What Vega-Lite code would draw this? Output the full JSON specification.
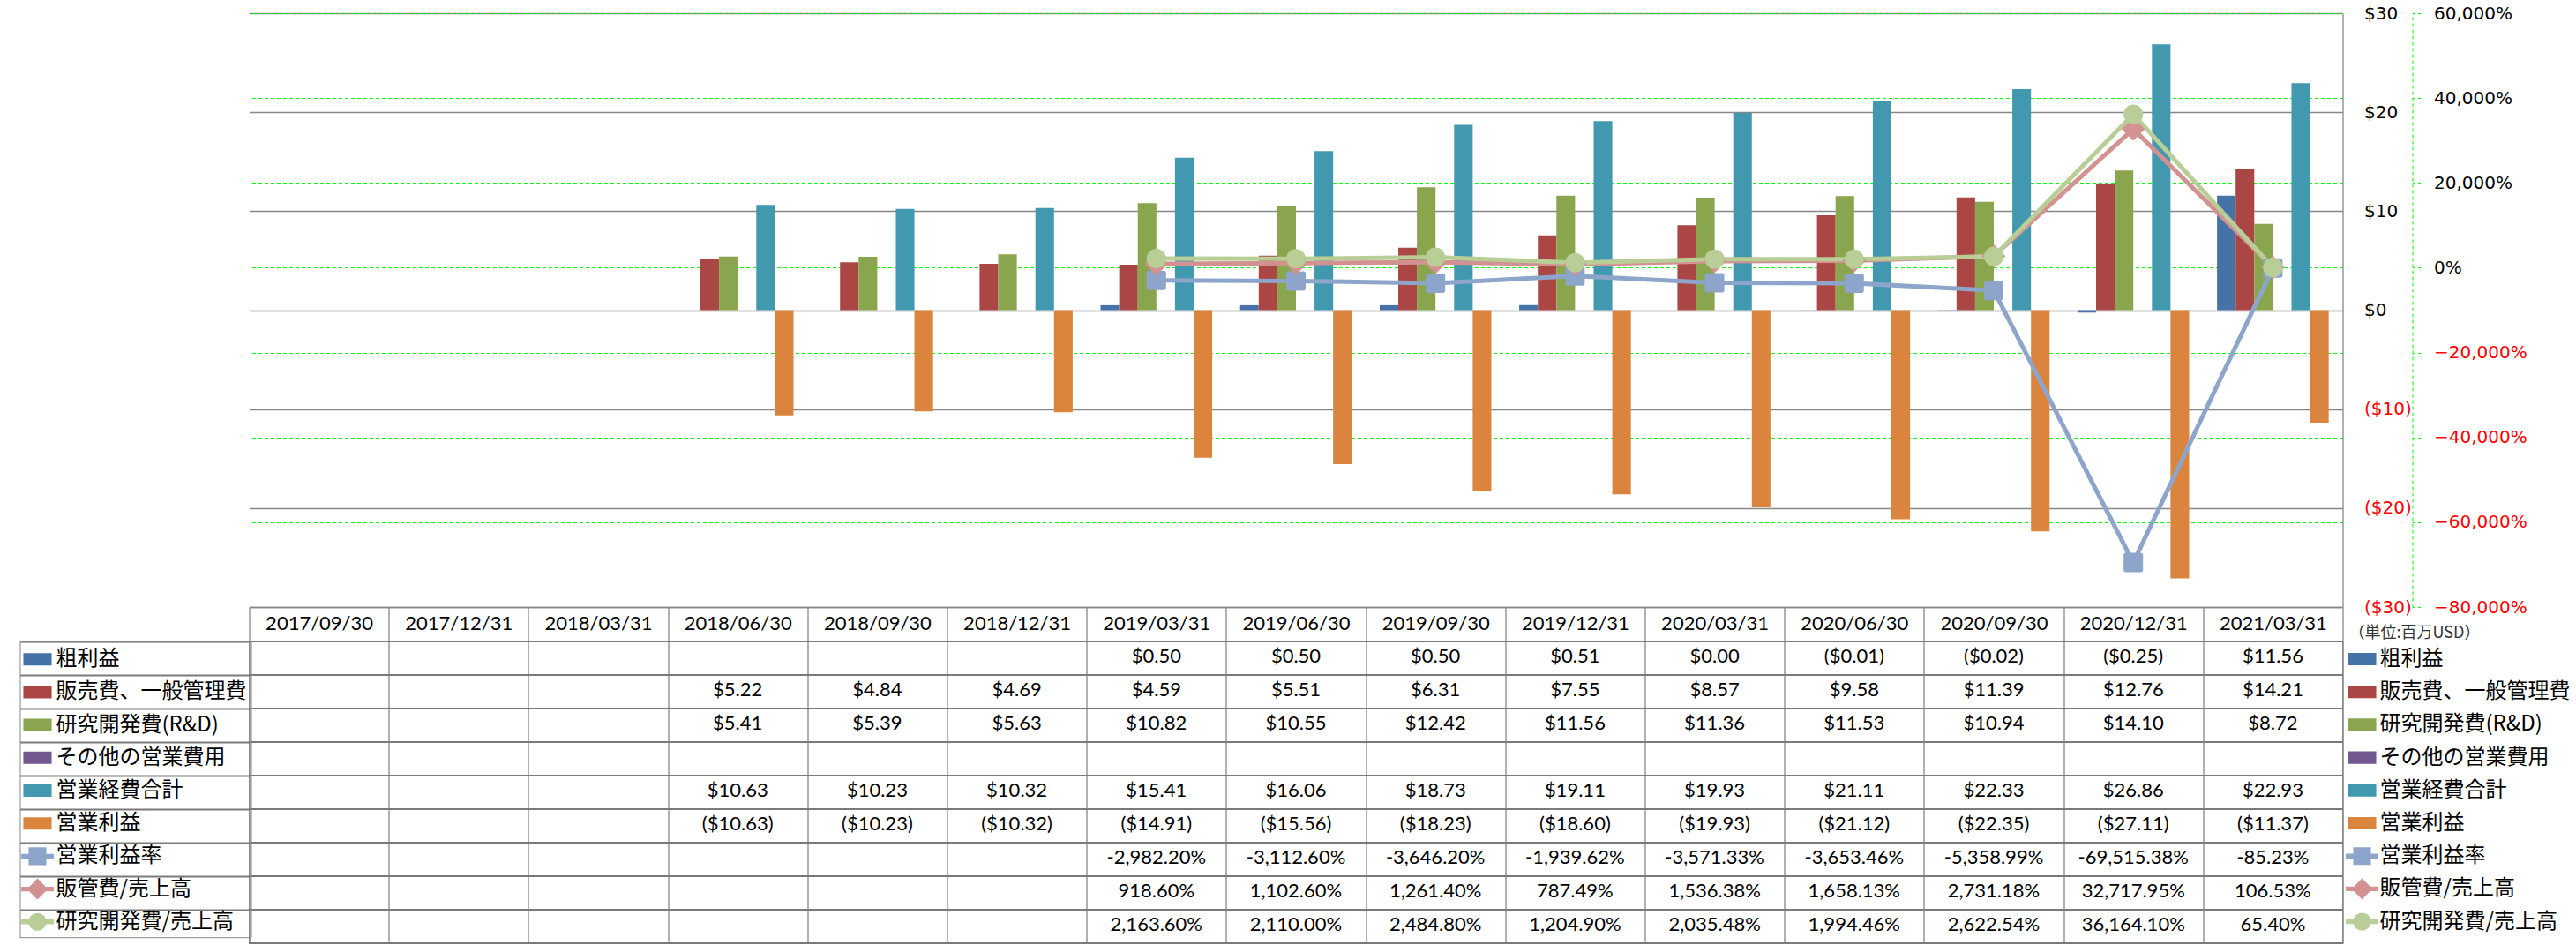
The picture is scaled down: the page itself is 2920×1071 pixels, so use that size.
{
  "$schema": "https://vega.github.io/schema/vega-lite/v6.json",
  "background": "white",
  "padding": {"left": 20.5, "top": 5, "right": 5, "bottom": 1},
  "config": {"font": "Lato", "view": {"stroke": null}},
  "datasets": {
    "cells": [
      {"date": "2018/06/30", "series": "販売費、一般管理費", "kind": "bar", "value": 5.22, "label": "$5.22"},
      {"date": "2018/06/30", "series": "研究開発費(R&D)", "kind": "bar", "value": 5.41, "label": "$5.41"},
      {"date": "2018/06/30", "series": "営業経費合計", "kind": "bar", "value": 10.63, "label": "$10.63"},
      {"date": "2018/06/30", "series": "営業利益", "kind": "bar", "value": -10.63, "label": "($10.63)"},
      {"date": "2018/09/30", "series": "販売費、一般管理費", "kind": "bar", "value": 4.84, "label": "$4.84"},
      {"date": "2018/09/30", "series": "研究開発費(R&D)", "kind": "bar", "value": 5.39, "label": "$5.39"},
      {"date": "2018/09/30", "series": "営業経費合計", "kind": "bar", "value": 10.23, "label": "$10.23"},
      {"date": "2018/09/30", "series": "営業利益", "kind": "bar", "value": -10.23, "label": "($10.23)"},
      {"date": "2018/12/31", "series": "販売費、一般管理費", "kind": "bar", "value": 4.69, "label": "$4.69"},
      {"date": "2018/12/31", "series": "研究開発費(R&D)", "kind": "bar", "value": 5.63, "label": "$5.63"},
      {"date": "2018/12/31", "series": "営業経費合計", "kind": "bar", "value": 10.32, "label": "$10.32"},
      {"date": "2018/12/31", "series": "営業利益", "kind": "bar", "value": -10.32, "label": "($10.32)"},
      {"date": "2019/03/31", "series": "粗利益", "kind": "bar", "value": 0.50, "label": "$0.50"},
      {"date": "2019/03/31", "series": "販売費、一般管理費", "kind": "bar", "value": 4.59, "label": "$4.59"},
      {"date": "2019/03/31", "series": "研究開発費(R&D)", "kind": "bar", "value": 10.82, "label": "$10.82"},
      {"date": "2019/03/31", "series": "営業経費合計", "kind": "bar", "value": 15.41, "label": "$15.41"},
      {"date": "2019/03/31", "series": "営業利益", "kind": "bar", "value": -14.91, "label": "($14.91)"},
      {"date": "2019/03/31", "series": "営業利益率", "kind": "line", "value": -2982.20, "label": "-2,982.20%"},
      {"date": "2019/03/31", "series": "販管費/売上高", "kind": "line", "value": 918.60, "label": "918.60%"},
      {"date": "2019/03/31", "series": "研究開発費/売上高", "kind": "line", "value": 2163.60, "label": "2,163.60%"},
      {"date": "2019/06/30", "series": "粗利益", "kind": "bar", "value": 0.50, "label": "$0.50"},
      {"date": "2019/06/30", "series": "販売費、一般管理費", "kind": "bar", "value": 5.51, "label": "$5.51"},
      {"date": "2019/06/30", "series": "研究開発費(R&D)", "kind": "bar", "value": 10.55, "label": "$10.55"},
      {"date": "2019/06/30", "series": "営業経費合計", "kind": "bar", "value": 16.06, "label": "$16.06"},
      {"date": "2019/06/30", "series": "営業利益", "kind": "bar", "value": -15.56, "label": "($15.56)"},
      {"date": "2019/06/30", "series": "営業利益率", "kind": "line", "value": -3112.60, "label": "-3,112.60%"},
      {"date": "2019/06/30", "series": "販管費/売上高", "kind": "line", "value": 1102.60, "label": "1,102.60%"},
      {"date": "2019/06/30", "series": "研究開発費/売上高", "kind": "line", "value": 2110.00, "label": "2,110.00%"},
      {"date": "2019/09/30", "series": "粗利益", "kind": "bar", "value": 0.50, "label": "$0.50"},
      {"date": "2019/09/30", "series": "販売費、一般管理費", "kind": "bar", "value": 6.31, "label": "$6.31"},
      {"date": "2019/09/30", "series": "研究開発費(R&D)", "kind": "bar", "value": 12.42, "label": "$12.42"},
      {"date": "2019/09/30", "series": "営業経費合計", "kind": "bar", "value": 18.73, "label": "$18.73"},
      {"date": "2019/09/30", "series": "営業利益", "kind": "bar", "value": -18.23, "label": "($18.23)"},
      {"date": "2019/09/30", "series": "営業利益率", "kind": "line", "value": -3646.20, "label": "-3,646.20%"},
      {"date": "2019/09/30", "series": "販管費/売上高", "kind": "line", "value": 1261.40, "label": "1,261.40%"},
      {"date": "2019/09/30", "series": "研究開発費/売上高", "kind": "line", "value": 2484.80, "label": "2,484.80%"},
      {"date": "2019/12/31", "series": "粗利益", "kind": "bar", "value": 0.51, "label": "$0.51"},
      {"date": "2019/12/31", "series": "販売費、一般管理費", "kind": "bar", "value": 7.55, "label": "$7.55"},
      {"date": "2019/12/31", "series": "研究開発費(R&D)", "kind": "bar", "value": 11.56, "label": "$11.56"},
      {"date": "2019/12/31", "series": "営業経費合計", "kind": "bar", "value": 19.11, "label": "$19.11"},
      {"date": "2019/12/31", "series": "営業利益", "kind": "bar", "value": -18.60, "label": "($18.60)"},
      {"date": "2019/12/31", "series": "営業利益率", "kind": "line", "value": -1939.62, "label": "-1,939.62%"},
      {"date": "2019/12/31", "series": "販管費/売上高", "kind": "line", "value": 787.49, "label": "787.49%"},
      {"date": "2019/12/31", "series": "研究開発費/売上高", "kind": "line", "value": 1204.90, "label": "1,204.90%"},
      {"date": "2020/03/31", "series": "粗利益", "kind": "bar", "value": 0.00, "label": "$0.00"},
      {"date": "2020/03/31", "series": "販売費、一般管理費", "kind": "bar", "value": 8.57, "label": "$8.57"},
      {"date": "2020/03/31", "series": "研究開発費(R&D)", "kind": "bar", "value": 11.36, "label": "$11.36"},
      {"date": "2020/03/31", "series": "営業経費合計", "kind": "bar", "value": 19.93, "label": "$19.93"},
      {"date": "2020/03/31", "series": "営業利益", "kind": "bar", "value": -19.93, "label": "($19.93)"},
      {"date": "2020/03/31", "series": "営業利益率", "kind": "line", "value": -3571.33, "label": "-3,571.33%"},
      {"date": "2020/03/31", "series": "販管費/売上高", "kind": "line", "value": 1536.38, "label": "1,536.38%"},
      {"date": "2020/03/31", "series": "研究開発費/売上高", "kind": "line", "value": 2035.48, "label": "2,035.48%"},
      {"date": "2020/06/30", "series": "粗利益", "kind": "bar", "value": -0.01, "label": "($0.01)"},
      {"date": "2020/06/30", "series": "販売費、一般管理費", "kind": "bar", "value": 9.58, "label": "$9.58"},
      {"date": "2020/06/30", "series": "研究開発費(R&D)", "kind": "bar", "value": 11.53, "label": "$11.53"},
      {"date": "2020/06/30", "series": "営業経費合計", "kind": "bar", "value": 21.11, "label": "$21.11"},
      {"date": "2020/06/30", "series": "営業利益", "kind": "bar", "value": -21.12, "label": "($21.12)"},
      {"date": "2020/06/30", "series": "営業利益率", "kind": "line", "value": -3653.46, "label": "-3,653.46%"},
      {"date": "2020/06/30", "series": "販管費/売上高", "kind": "line", "value": 1658.13, "label": "1,658.13%"},
      {"date": "2020/06/30", "series": "研究開発費/売上高", "kind": "line", "value": 1994.46, "label": "1,994.46%"},
      {"date": "2020/09/30", "series": "粗利益", "kind": "bar", "value": -0.02, "label": "($0.02)"},
      {"date": "2020/09/30", "series": "販売費、一般管理費", "kind": "bar", "value": 11.39, "label": "$11.39"},
      {"date": "2020/09/30", "series": "研究開発費(R&D)", "kind": "bar", "value": 10.94, "label": "$10.94"},
      {"date": "2020/09/30", "series": "営業経費合計", "kind": "bar", "value": 22.33, "label": "$22.33"},
      {"date": "2020/09/30", "series": "営業利益", "kind": "bar", "value": -22.35, "label": "($22.35)"},
      {"date": "2020/09/30", "series": "営業利益率", "kind": "line", "value": -5358.99, "label": "-5,358.99%"},
      {"date": "2020/09/30", "series": "販管費/売上高", "kind": "line", "value": 2731.18, "label": "2,731.18%"},
      {"date": "2020/09/30", "series": "研究開発費/売上高", "kind": "line", "value": 2622.54, "label": "2,622.54%"},
      {"date": "2020/12/31", "series": "粗利益", "kind": "bar", "value": -0.25, "label": "($0.25)"},
      {"date": "2020/12/31", "series": "販売費、一般管理費", "kind": "bar", "value": 12.76, "label": "$12.76"},
      {"date": "2020/12/31", "series": "研究開発費(R&D)", "kind": "bar", "value": 14.10, "label": "$14.10"},
      {"date": "2020/12/31", "series": "営業経費合計", "kind": "bar", "value": 26.86, "label": "$26.86"},
      {"date": "2020/12/31", "series": "営業利益", "kind": "bar", "value": -27.11, "label": "($27.11)"},
      {"date": "2020/12/31", "series": "営業利益率", "kind": "line", "value": -69515.38, "label": "-69,515.38%"},
      {"date": "2020/12/31", "series": "販管費/売上高", "kind": "line", "value": 32717.95, "label": "32,717.95%"},
      {"date": "2020/12/31", "series": "研究開発費/売上高", "kind": "line", "value": 36164.10, "label": "36,164.10%"},
      {"date": "2021/03/31", "series": "粗利益", "kind": "bar", "value": 11.56, "label": "$11.56"},
      {"date": "2021/03/31", "series": "販売費、一般管理費", "kind": "bar", "value": 14.21, "label": "$14.21"},
      {"date": "2021/03/31", "series": "研究開発費(R&D)", "kind": "bar", "value": 8.72, "label": "$8.72"},
      {"date": "2021/03/31", "series": "営業経費合計", "kind": "bar", "value": 22.93, "label": "$22.93"},
      {"date": "2021/03/31", "series": "営業利益", "kind": "bar", "value": -11.37, "label": "($11.37)"},
      {"date": "2021/03/31", "series": "営業利益率", "kind": "line", "value": -85.23, "label": "-85.23%"},
      {"date": "2021/03/31", "series": "販管費/売上高", "kind": "line", "value": 106.53, "label": "106.53%"},
      {"date": "2021/03/31", "series": "研究開発費/売上高", "kind": "line", "value": 65.40, "label": "65.40%"}
    ]
  },
  "data": {"name": "cells"},
  "bounds": "flush",
  "spacing": 39,
  "resolve": {
    "scale": {"color": "independent", "shape": "independent"},
    "legend": {"color": "independent", "shape": "independent"}
  },
  "vconcat": [
    {
      "width": 2373,
      "height": 673,
      "encoding": {
        "x": {
          "field": "date", "type": "ordinal",
          "scale": {"type": "band", "domain": ["2017/09/30","2017/12/31","2018/03/31","2018/06/30","2018/09/30","2018/12/31","2019/03/31","2019/06/30","2019/09/30","2019/12/31","2020/03/31","2020/06/30","2020/09/30","2020/12/31","2021/03/31"], "paddingInner": 0, "paddingOuter": 0},
          "axis": {"orient": "bottom", "title": null, "labelAngle": 0, "labelFont": "Lato", "labelFontSize": 22, "labelColor": "#000000", "tickBand": "extent", "ticks": true, "tickSize": 39, "tickColor": "#878787", "tickWidth": 1.3, "domain": true, "domainColor": "#878787", "domainWidth": 1.3, "labelPadding": -31, "labelBaseline": "top", "grid": false}
        }
      },
      "layer": [
        {
          "layer": [
            {
              "transform": [{"filter": "datum.kind == 'bar'"}],
              "mark": {"type": "bar"},
              "encoding": {
                "xOffset": {"field": "series", "type": "nominal", "scale": {"domain": ["粗利益","販売費、一般管理費","研究開発費(R&D)","その他の営業費用","営業経費合計","営業利益"], "paddingInner": 0, "paddingOuter": 0.75}},
                "y": {
                  "field": "value", "type": "quantitative",
                  "scale": {"domain": [-30, 30], "nice": false},
                  "axis": {"orient": "right", "title": null, "values": [-30,-20,-10,0,10,20,30], "grid": true, "gridColor": "#878787", "gridWidth": 1.3, "domain": true, "domainColor": "#878787", "domainWidth": 1.3, "ticks": false, "labelPadding": 24, "labelFont": "DejaVu Sans", "labelFontSize": 20, "labelExpr": "datum.value < 0 ? '($' + abs(datum.value) + ')' : '$' + datum.value", "labelColor": {"condition": {"test": "datum.value < 0", "value": "#FF0000"}, "value": "#000000"}}
                },
                "color": {"field": "series", "type": "nominal", "scale": {"domain": ["粗利益","販売費、一般管理費","研究開発費(R&D)","その他の営業費用","営業経費合計","営業利益","営業利益率","販管費/売上高","研究開発費/売上高"], "range": ["#4572A7","#AA4643","#89A54E","#71588F","#4198AF","#DB843D","#8EA5CB","#D29292","#B9CD96"]}}
              }
            },
            {
              "transform": [{"filter": "datum.kind == 'bar'"}],
              "mark": {"type": "point", "filled": true, "opacity": 0, "clip": true},
              "encoding": {
                "y": {"field": "value", "type": "quantitative"},
                "color": {"field": "series", "type": "nominal",
                  "legend": {"orient": "none", "legendX": 2380, "legendY": 694, "title": "（単位:百万USD）", "titleFont": "Noto Sans CJK JP", "titleFontSize": 18, "titleFontWeight": "normal", "titleColor": "#333333", "titlePadding": 5, "direction": "vertical", "symbolSize": 900, "symbolStrokeWidth": 0, "symbolOpacity": 1, "labelFont": "Noto Sans CJK JP", "labelFontSize": 24, "labelColor": "#000000", "labelOffset": 5, "rowPadding": 10.2, "padding": 0, "labelLimit": 400}},
                "shape": {"field": "series", "type": "nominal",
                  "scale": {"domain": ["粗利益","販売費、一般管理費","研究開発費(R&D)","その他の営業費用","営業経費合計","営業利益","営業利益率","販管費/売上高","研究開発費/売上高"], "range": ["M-1.07,-0.47H1.07V0.47H-1.07Z","M-1.07,-0.47H1.07V0.47H-1.07Z","M-1.07,-0.47H1.07V0.47H-1.07Z","M-1.07,-0.47H1.07V0.47H-1.07Z","M-1.07,-0.47H1.07V0.47H-1.07Z","M-1.07,-0.47H1.07V0.47H-1.07Z","M-1.23,-0.18H-0.67V-0.67H0.67V-0.18H1.23V0.18H0.67V0.67H-0.67V0.18H-1.23Z","M-1.23,-0.18H-0.62L0,-0.8L0.62,-0.18H1.23V0.18H0.62L0,0.8L-0.62,0.18H-1.23Z","M-1.23,-0.18H-0.645A0.67,0.67 0 0 1 0.645,-0.18H1.23V0.18H0.645A0.67,0.67 0 0 1 -0.645,0.18H-1.23Z"]},
                  "legend": {"orient": "none", "legendX": 2380, "legendY": 694, "title": "（単位:百万USD）", "titleFont": "Noto Sans CJK JP", "titleFontSize": 18, "titleFontWeight": "normal", "titleColor": "#333333", "titlePadding": 5, "direction": "vertical", "symbolSize": 900, "symbolStrokeWidth": 0, "symbolOpacity": 1, "labelFont": "Noto Sans CJK JP", "labelFontSize": 24, "labelColor": "#000000", "labelOffset": 5, "rowPadding": 10.2, "padding": 0, "labelLimit": 400}}
              }
            }
          ]
        },
        {
          "layer": [
            {
              "transform": [{"filter": "datum.kind == 'line'"}],
              "mark": {"type": "line", "strokeWidth": 5},
              "encoding": {
                "y": {
                  "field": "value", "type": "quantitative",
                  "scale": {"domain": [-80000, 60000], "nice": false, "zero": false},
                  "axis": {"orient": "right", "offset": 79, "title": null, "values": [-80000,-60000,-40000,-20000,0,20000,40000,60000], "grid": true, "gridColor": "#00FF00", "gridDash": [4,3], "gridWidth": 1, "domain": true, "domainColor": "#00FF00", "domainDash": [4,3], "domainWidth": 1, "ticks": true, "tickSize": 9, "tickColor": "#00FF00", "tickDash": [3,3], "tickWidth": 1, "labelPadding": 15, "labelFont": "DejaVu Sans", "labelFontSize": 20, "labelExpr": "format(datum.value, ',') + '%'", "labelColor": {"condition": {"test": "datum.value < 0", "value": "#FF0000"}, "value": "#000000"}}
                },
                "color": {"field": "series", "type": "nominal"}
              }
            },
            {
              "transform": [{"filter": "datum.series == '営業利益率'"}],
              "mark": {"type": "point", "shape": "M-1,-0.75Q-1,-1 -0.75,-1H0.75Q1,-1 1,-0.75V0.75Q1,1 0.75,1H-0.75Q-1,1 -1,0.75Z", "filled": true, "size": 484, "color": "#8EA5CB", "opacity": 1},
              "encoding": {"y": {"field": "value", "type": "quantitative"}}
            },
            {
              "transform": [{"filter": "datum.series == '販管費/売上高'"}],
              "mark": {"type": "point", "shape": "diamond", "filled": true, "size": 700, "color": "#D29292", "opacity": 1},
              "encoding": {"y": {"field": "value", "type": "quantitative"}}
            },
            {
              "transform": [{"filter": "datum.series == '研究開発費/売上高'"}],
              "mark": {"type": "point", "shape": "circle", "filled": true, "size": 484, "color": "#B9CD96", "opacity": 1},
              "encoding": {"y": {"field": "value", "type": "quantitative"}}
            }
          ]
        }
      ],
      "resolve": {"scale": {"y": "independent"}}
    },
    {
      "width": 2373,
      "height": 342,
      "view": {"stroke": "#878787", "strokeWidth": 1.3},
      "layer": [
        {
          "mark": {"type": "rule", "color": "#7A7A7A", "strokeWidth": 2},
          "encoding": {
            "y": {"field": "series", "type": "nominal", "bandPosition": 0,
              "scale": {"type": "band", "domain": ["粗利益","販売費、一般管理費","研究開発費(R&D)","その他の営業費用","営業経費合計","営業利益","営業利益率","販管費/売上高","研究開発費/売上高"], "paddingInner": 0, "paddingOuter": 0},
              "axis": {"orient": "left", "title": null, "labels": false, "domain": false, "ticks": true, "bandPosition": 0, "tickSize": 260, "tickColor": "#7A7A7A", "tickWidth": 2, "grid": false}}
          }
        },
        {
          "mark": {"type": "rule", "color": "#7A7A7A", "strokeWidth": 2},
          "encoding": {
            "y": {"field": "series", "type": "nominal", "bandPosition": 1}
          }
        },
        {
          "mark": {"type": "point", "filled": true, "opacity": 0},
          "encoding": {
            "x": {
              "field": "date", "type": "ordinal",
              "scale": {"type": "band", "domain": ["2017/09/30","2017/12/31","2018/03/31","2018/06/30","2018/09/30","2018/12/31","2019/03/31","2019/06/30","2019/09/30","2019/12/31","2020/03/31","2020/06/30","2020/09/30","2020/12/31","2021/03/31"], "paddingInner": 0, "paddingOuter": 0},
              "axis": {"orient": "top", "title": null, "labels": false, "ticks": false, "domain": false, "grid": true, "tickBand": "extent", "gridColor": "#878787", "gridWidth": 1.3}
            },
            "y": {"field": "series", "type": "nominal"},
            "color": {"field": "series", "type": "nominal",
              "scale": {"domain": ["粗利益","販売費、一般管理費","研究開発費(R&D)","その他の営業費用","営業経費合計","営業利益","営業利益率","販管費/売上高","研究開発費/売上高"], "range": ["#4572A7","#AA4643","#89A54E","#71588F","#4198AF","#DB843D","#8EA5CB","#D29292","#B9CD96"]},
              "legend": {"orient": "none", "legendX": -260, "legendY": 0.2, "title": null, "direction": "vertical", "symbolSize": 900, "symbolStrokeWidth": 0, "symbolOpacity": 1, "labelFont": "Noto Sans CJK JP", "labelFontSize": 24, "labelColor": "#000000", "labelOffset": 6, "rowPadding": 10.2, "padding": 5, "strokeColor": "#878787", "labelLimit": 400}},
            "shape": {"field": "series", "type": "nominal",
              "scale": {"domain": ["粗利益","販売費、一般管理費","研究開発費(R&D)","その他の営業費用","営業経費合計","営業利益","営業利益率","販管費/売上高","研究開発費/売上高"], "range": ["M-1.07,-0.47H1.07V0.47H-1.07Z","M-1.07,-0.47H1.07V0.47H-1.07Z","M-1.07,-0.47H1.07V0.47H-1.07Z","M-1.07,-0.47H1.07V0.47H-1.07Z","M-1.07,-0.47H1.07V0.47H-1.07Z","M-1.07,-0.47H1.07V0.47H-1.07Z","M-1.23,-0.18H-0.67V-0.67H0.67V-0.18H1.23V0.18H0.67V0.67H-0.67V0.18H-1.23Z","M-1.23,-0.18H-0.62L0,-0.8L0.62,-0.18H1.23V0.18H0.62L0,0.8L-0.62,0.18H-1.23Z","M-1.23,-0.18H-0.645A0.67,0.67 0 0 1 0.645,-0.18H1.23V0.18H0.645A0.67,0.67 0 0 1 -0.645,0.18H-1.23Z"]},
              "legend": {"orient": "none", "legendX": -260, "legendY": 0.2, "title": null, "direction": "vertical", "symbolSize": 900, "symbolStrokeWidth": 0, "symbolOpacity": 1, "labelFont": "Noto Sans CJK JP", "labelFontSize": 24, "labelColor": "#000000", "labelOffset": 6, "rowPadding": 10.2, "padding": 5, "strokeColor": "#878787", "labelLimit": 400}}
          }
        },
        {
          "mark": {"type": "text", "font": "Lato", "fontSize": 22, "color": "#000000", "dy": -2},
          "encoding": {
            "x": {"field": "date", "type": "ordinal"},
            "y": {"field": "series", "type": "nominal"},
            "text": {"field": "label", "type": "nominal"}
          }
        }
      ]
    }
  ]
}
